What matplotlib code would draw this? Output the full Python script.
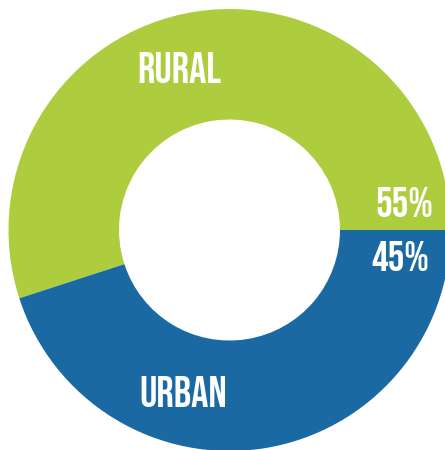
import matplotlib
matplotlib.use("Agg")
import matplotlib.pyplot as plt

# data
labels = ["RURAL", "URBAN"]
shares = [55, 45]
pct_labels = ["55%", "45%"]
colors = ["#ADCD3E", "#1A69A3"]

fam = ["Bebas Neue", "DejaVu Sans"]

fig = plt.figure(figsize=(4.45, 4.5), dpi=100)
ax = fig.add_axes([0, 0, 1, 1])

# donut, axes units = pixels
cx, cy, R = 229.5, 220, 221
ax.pie(shares, colors=colors, startangle=0, counterclock=True,
       center=(cx, cy), radius=R, frame=True,
       wedgeprops=dict(width=R - 110.5, linewidth=0))
ax.set_xlim(0, 445)
ax.set_ylim(0, 450)
ax.set_aspect("equal")
ax.axis("off")

tk = dict(color="white", family=fam, ha="center", va="baseline")
ax.text(179, 367, labels[0], fontsize=31, **tk)
ax.text(183, 43, labels[1], fontsize=31, **tk)
ax.text(404, 233, pct_labels[0], fontsize=30, **tk)
ax.text(400, 179, pct_labels[1], fontsize=30, **tk)

plt.savefig("out.png", dpi=100)
